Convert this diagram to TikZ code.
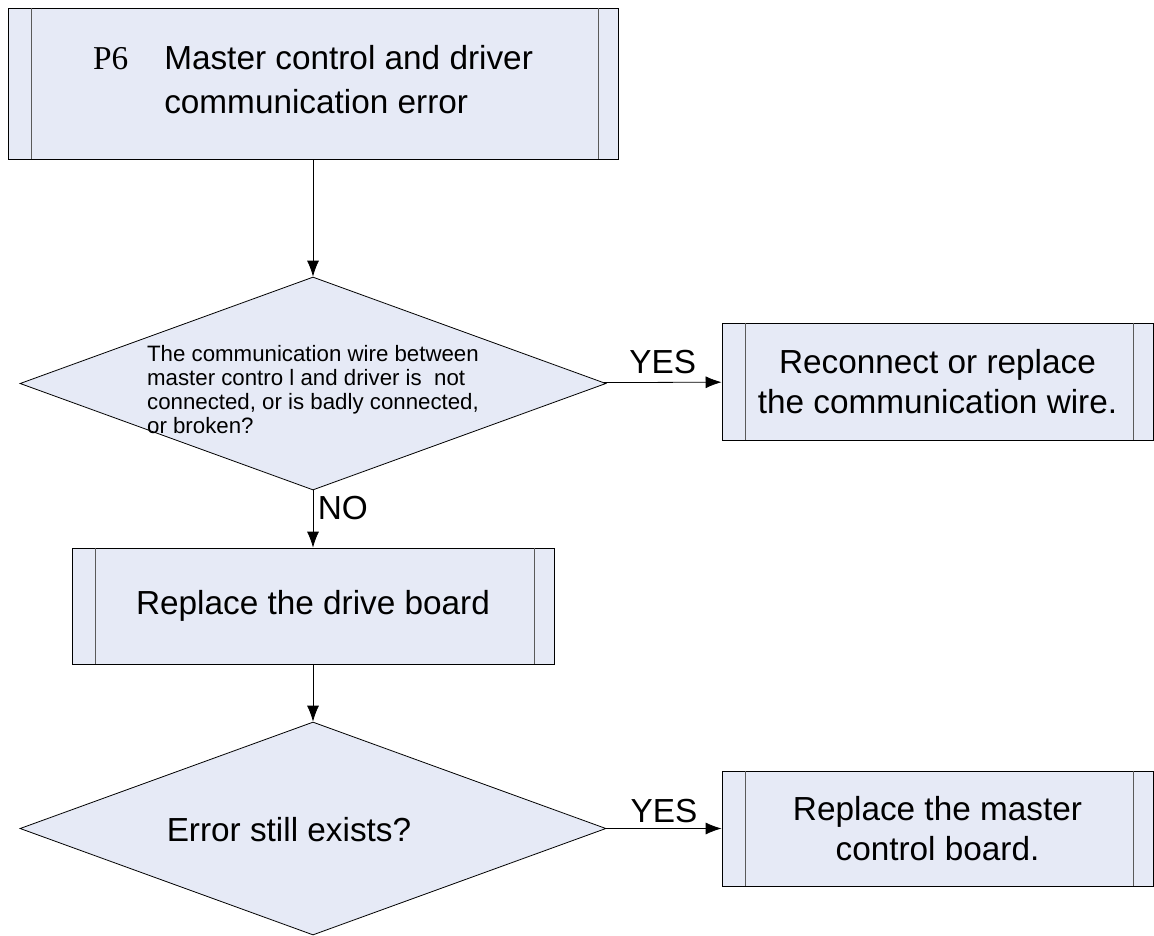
\documentclass[tikz,border=0pt]{standalone}
\usepackage{fontspec}
\setmainfont{Liberation Sans}
\newfontfamily\codefont{Liberation Serif}
\usetikzlibrary{shapes.geometric, arrows.meta, calc}
\definecolor{BoxFill}{RGB}{230, 234, 246}
\definecolor{BarGray}{RGB}{90, 90, 90}

\tikzset{
  procbox/.style={rectangle, draw=black, fill=BoxFill, line width=0.6pt,
                  inner sep=0pt, align=center, font=\fontsize{25}{30.5}\selectfont},
  decision/.style={diamond, draw=black, fill=BoxFill, line width=0.6pt,
                   inner sep=0pt, minimum width=439.5pt, minimum height=159.75pt},
  flow/.style={-{Latex[length=12pt, width=9pt]}, line width=0.6pt},
  tag/.style={font=\fontsize{25}{30}\selectfont},
}

\begin{document}
\begin{tikzpicture}[x=0.75pt, y=-0.75pt]
  \useasboundingbox (0,0) rectangle (1154,936);

  % Fault code box
  \node[procbox, minimum width=457.5pt, minimum height=113.25pt] (start) at (313,83.5)
       {{\codefont P6}\hspace{27pt}\begin{tabular}[t]{@{}l@{}}Master control and driver\\[2.5pt]
        communication error\end{tabular}};

  % First check: the wire
  \node[decision] (q1) at (313,383.5) {};
  \node[align=left, inner sep=0pt, font=\fontsize{16.7}{18}\selectfont] (q1text) at (313,390)
       {The communication wire between\\
        master contro l and driver is\ \ not\\
        connected, or is badly connected,\\
        or broken?};
  \node[procbox, minimum width=323.25pt, minimum height=87.75pt] (fix) at (937.5,381.5)
       {Reconnect or replace\\the communication wire.};

  % Second step: drive board
  \node[procbox, minimum width=361.5pt, minimum height=87pt] (drive) at (313,606)
       {Replace the drive board};

  % Second check
  \node[decision] (q2) at (313,828.5) {};
  \node[tag, inner sep=0pt] (q2text) at (289,830) {Error still exists?};
  \node[procbox, minimum width=323.25pt, minimum height=86.25pt] (master) at (937.5,828.5)
       {Replace the master\\control board.};

  % Inner bars of the process boxes
  \foreach \n in {start, fix, drive, master} {
    \draw[BarGray, line width=0.6pt] ($(\n.north west)+(24,0)$) -- ($(\n.south west)+(24,0)$);
    \draw[BarGray, line width=0.6pt] ($(\n.north east)+(-20,0)$) -- ($(\n.south east)+(-20,0)$);
  }

  % Connectors
  \draw[flow] (start) -- (q1);
  \draw[flow] (q1) -- node[tag, above, yshift=3pt] (yes1) {YES} (fix);
  \draw[flow] (q1) -- node[tag, right, pos=0.3] (no1) {NO} (drive);
  \draw[flow] (drive) -- (q2);
  \draw[flow] (q2) -- node[tag, above, yshift=1pt] (yes2) {YES} (master);
\end{tikzpicture}
\end{document}
